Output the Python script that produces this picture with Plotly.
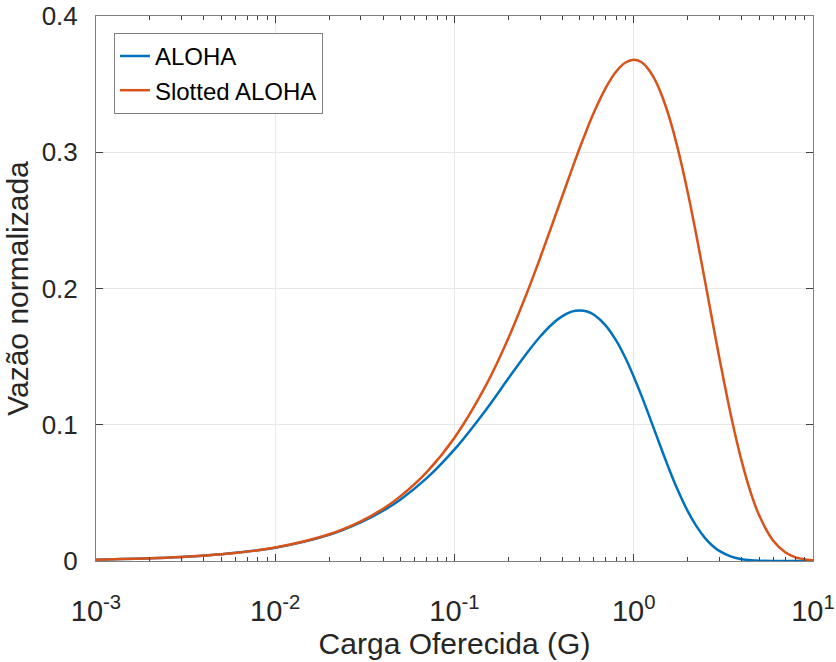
import plotly.graph_objects as go

# Offered load G (read along the log axis)
G = [0.001, 0.002, 0.003, 0.005, 0.01, 0.02, 0.03, 0.04, 0.05, 0.07, 0.1, 0.15, 0.2,
     0.25, 0.3, 0.35, 0.4, 0.45, 0.5, 0.55, 0.6, 0.7, 0.8, 0.9, 1.0, 1.1, 1.2, 1.3,
     1.4, 1.5, 1.6, 1.75, 2.0, 2.25, 2.5, 2.75, 3.0, 3.5, 4.0, 4.5, 5.0, 6.0, 7.0,
     8.0, 10.0]

# Normalized throughput, pure ALOHA
aloha = [0.0010, 0.0020, 0.0030, 0.0050, 0.0098, 0.0192, 0.0283, 0.0369, 0.0452,
         0.0608, 0.0819, 0.1111, 0.1341, 0.1516, 0.1646, 0.1738, 0.1797, 0.1830,
         0.1839, 0.1831, 0.1807, 0.1726, 0.1615, 0.1488, 0.1353, 0.1219, 0.1089,
         0.0966, 0.0851, 0.0747, 0.0652, 0.0528, 0.0366, 0.0250, 0.0168, 0.0112,
         0.0074, 0.0032, 0.0013, 0.0006, 0.0002, 0.0000, 0.0000, 0.0000, 0.0000]

# Normalized throughput, slotted ALOHA
slotted = [0.0010, 0.0020, 0.0030, 0.0050, 0.0099, 0.0196, 0.0291, 0.0384, 0.0476,
           0.0653, 0.0905, 0.1291, 0.1637, 0.1947, 0.2222, 0.2466, 0.2681, 0.2869,
           0.3033, 0.3173, 0.3293, 0.3476, 0.3595, 0.3659, 0.3679, 0.3662, 0.3614,
           0.3543, 0.3452, 0.3347, 0.3230, 0.3041, 0.2707, 0.2371, 0.2052, 0.1758,
           0.1494, 0.1057, 0.0733, 0.0500, 0.0337, 0.0149, 0.0064, 0.0027, 0.0005]

x_tickvals = [0.001, 0.01, 0.1, 1, 10]
x_exponents = ["-3", "-2", "-1", "0", "1"]
x_minor = [m * 10 ** e for e in range(-3, 1) for m in range(2, 10)]
y_tickvals = [0, 0.1, 0.2, 0.3, 0.4]
y_ticktext = ["0", "0.1", "0.2", "0.3", "0.4"]

FONT = "Liberation Sans, Arial, Helvetica, sans-serif"
TXT = "#262626"

x_ticktext = ["10<sup>%s</sup>" % e for e in x_exponents]

fig = go.Figure()
fig.add_trace(go.Scatter(x=G, y=aloha, mode="lines", name="ALOHA",
                         line=dict(color="#0072BD", width=2.5, shape="spline", smoothing=1)))
fig.add_trace(go.Scatter(x=G, y=slotted, mode="lines", name="Slotted ALOHA",
                         line=dict(color="#D95319", width=2.5, shape="spline", smoothing=1)))

axis_common = dict(showline=True, linecolor="#808080", linewidth=1, mirror="ticks",
                   ticks="inside", tickcolor="#404040", ticklen=7, tickwidth=1,
                   showgrid=True, gridcolor="#E8E8E8", gridwidth=1, zeroline=False,
                   automargin=False)

fig.update_xaxes(type="log", range=[-3, 1], tickmode="array", tickvals=x_tickvals,
                 ticktext=x_ticktext, ticklabelstandoff=24,
                 tickfont=dict(family=FONT, size=29, color=TXT),
                 minor=dict(tickmode="array", tickvals=x_minor, ticks="inside", ticklen=4,
                            tickcolor="#404040", showgrid=False),
                 title=dict(text="Carga Oferecida (G)", font=dict(family=FONT, size=30, color=TXT),
                            standoff=2),
                 **axis_common)
fig.update_yaxes(range=[0, 0.4], tickmode="array", tickvals=y_tickvals, ticktext=y_ticktext,
                 ticklabelstandoff=12,
                 tickfont=dict(family=FONT, size=26, color=TXT),
                 title=dict(text="Vazão normalizada", font=dict(family=FONT, size=30, color=TXT),
                            standoff=4),
                 **axis_common)

fig.update_layout(width=836, height=662, margin=dict(l=96, r=23, t=16, b=101),
                  plot_bgcolor="white", paper_bgcolor="white",
                  font=dict(family=FONT, color=TXT),
                  showlegend=True,
                  legend=dict(x=0.025, y=0.969, xanchor="left", yanchor="top",
                              bgcolor="white", bordercolor="#808080", borderwidth=1,
                              font=dict(family=FONT, size=24, color="#000000"),
                              tracegroupgap=0, itemwidth=30))

fig.write_html("out.html")
